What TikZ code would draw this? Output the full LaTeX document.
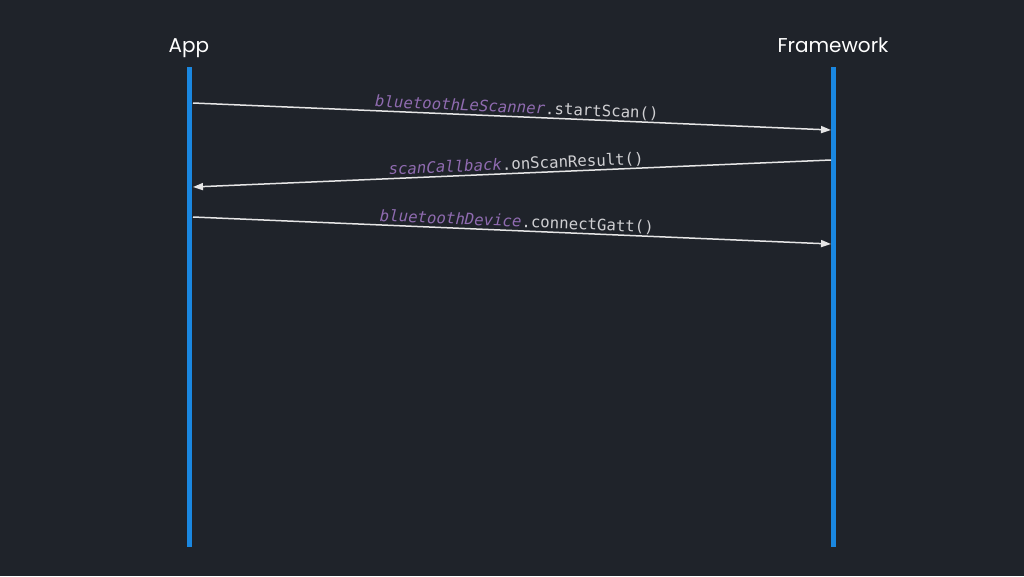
\documentclass[tikz,border=0pt]{standalone}
\usepackage{fontspec}
\setmainfont{Poppins}
\newfontfamily\codefont{DejaVu Sans Mono}
\usetikzlibrary{arrows.meta}
\definecolor{bgc}{HTML}{1F232A}
\definecolor{lifeblue}{HTML}{1A87E0}
\definecolor{codepurple}{HTML}{8F6BB0}
\definecolor{codegray}{HTML}{CFCFD2}
\definecolor{msgline}{HTML}{E6E6E6}
\tikzset{
  lifeline/.style={draw=lifeblue, line width=5pt},
  title/.style={text=white, font=\fontsize{20}{24}\selectfont, inner sep=0pt, anchor=base},
  msg/.style={draw=msgline, line width=1.5pt, -{Triangle[length=10pt,width=7pt]}},
  msglabel/.style={font=\codefont\fontsize{15.7}{18}\selectfont, text=codegray, inner sep=1pt, above, pos=0.507, sloped},
}
\newcommand{\objname}[1]{\textcolor{codepurple}{\itshape #1}}
\begin{document}
\begin{tikzpicture}[x=1pt,y=-1pt]
\fill[bgc] (0,0) rectangle (1024,576);
\useasboundingbox (0,0) rectangle (1024,576);
% titles
\node[title] (app) at (189,52) {App};
\node[title] (fw) at (833,52) {Framework};
% lifelines
\coordinate (appTop) at (189,67);
\coordinate (appBot) at (189,547);
\coordinate (fwTop) at (833,67);
\coordinate (fwBot) at (833,547);
\draw[lifeline] (appTop) -- (appBot);
\draw[lifeline] (fwTop) -- (fwBot);
% message endpoints
\coordinate (a1) at (193,103);
\coordinate (f1) at (831,130);
\coordinate (f2) at (831,160);
\coordinate (a2) at (193,187);
\coordinate (a3) at (193,217);
\coordinate (f3) at (831,244);
\draw[msg] (a1) -- node[msglabel] (l1) {\objname{bluetoothLeScanner}.startScan()} (f1);
\draw[msg] (f2) -- node[msglabel, pos=0.493] (l2) {\objname{scanCallback}.onScanResult()} (a2);
\draw[msg] (a3) -- node[msglabel] (l3) {\objname{bluetoothDevice}.connectGatt()} (f3);
\end{tikzpicture}
\end{document}
